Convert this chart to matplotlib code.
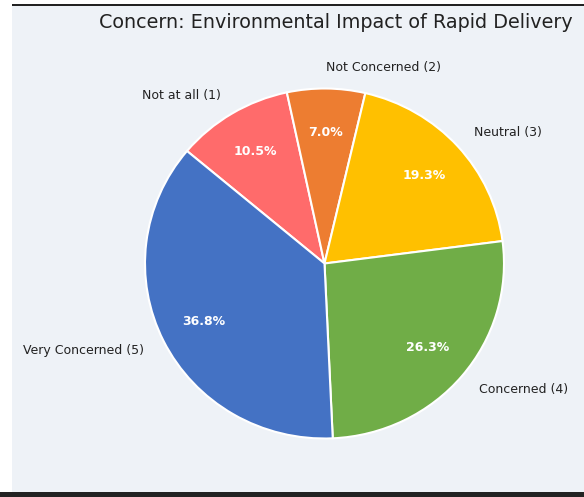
import matplotlib.pyplot as plt
from matplotlib.patches import Rectangle

labels = ['Not at all (1)', 'Not Concerned (2)', 'Neutral (3)',
          'Concerned (4)', 'Very Concerned (5)']
counts = [6, 4, 11, 15, 21]
colors = ['#FF6B6B', '#ED7D31', '#FFC000', '#70AD47', '#4472C4']

W, H = 584, 497
fig = plt.figure(figsize=(W / 100, H / 100), dpi=100, facecolor='#eef2f7')

# frame strips around the panel
fig.patches.append(Rectangle((0, 0), 12 / W, 1, transform=fig.transFigure,
                             facecolor='white', edgecolor='none', zorder=-1))
fig.patches.append(Rectangle((0, (H - 6) / H), 1, 6 / H, transform=fig.transFigure,
                             facecolor='white', edgecolor='none', zorder=-1))
fig.patches.append(Rectangle((12 / W, (H - 6) / H), 1, 2 / H, transform=fig.transFigure,
                             facecolor='#222222', edgecolor='none', zorder=-1))
fig.patches.append(Rectangle((0, 0), 1, 5 / H, transform=fig.transFigure,
                             facecolor='#222222', edgecolor='none', zorder=-1))

# pie is a little wider than tall
cx, cy, rx, ry = 324.5, 263.5, 179.5, 175
hx, hy = 1.25 * rx, 1.25 * ry
ax = fig.add_axes([(cx - hx) / W, (H - cy - hy) / H, 2 * hx / W, 2 * hy / H])
ax.set_facecolor('none')

wedges, texts, autotexts = ax.pie(
    counts, labels=labels, colors=colors, autopct='%1.1f%%',
    startangle=140, counterclock=False, pctdistance=0.75, labeldistance=1.12,
    wedgeprops=dict(edgecolor='white', linewidth=1.5),
    textprops=dict(fontsize=9, color='#222222'))
for t in autotexts:
    t.set_color('white')
    t.set_fontweight('bold')
    t.set_fontsize(9)
ax.set_aspect('auto')
ax.set_xlim(-1.25, 1.25)
ax.set_ylim(-1.25, 1.25)

fig.text(335.5 / W, (H - 23) / H, 'Concern: Environmental Impact of Rapid Delivery',
         ha='center', va='center', fontsize=13.8, color='#222222')

fig.savefig('out.png', dpi=100, facecolor=fig.get_facecolor())
